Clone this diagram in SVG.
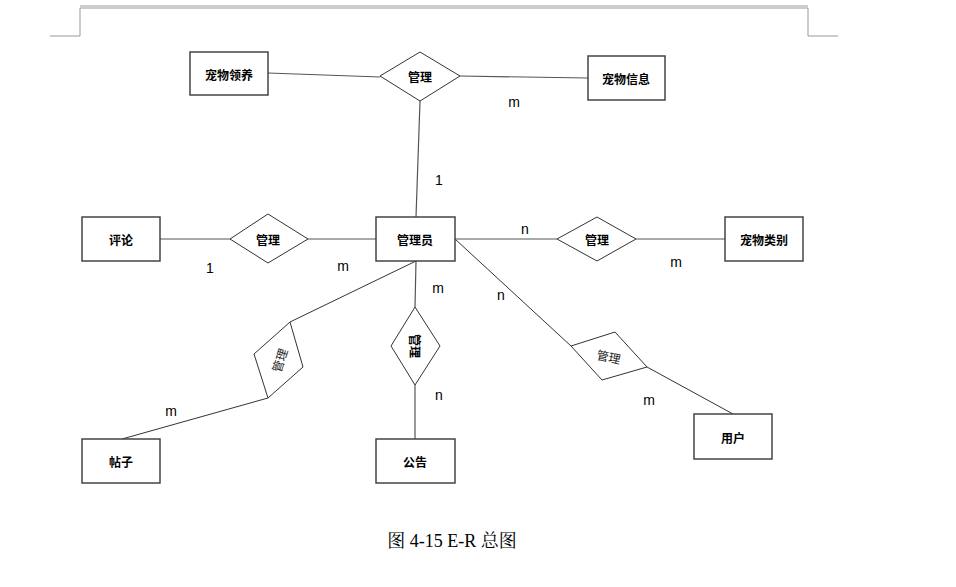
<svg xmlns="http://www.w3.org/2000/svg" width="956" height="587" viewBox="0 0 956 587">
<style>
.ent{fill:#fff;stroke:#444;stroke-width:1.5}
.rel{fill:#fff;stroke:#333;stroke-width:1}
.t{font-family:"Noto Sans CJK SC","Noto Sans",sans-serif;font-size:12px;font-weight:bold;fill:#000;text-anchor:middle;dominant-baseline:central}
.tr{font-family:"Noto Sans CJK SC","Noto Sans",sans-serif;font-size:12px;fill:#222;text-anchor:middle;dominant-baseline:central}
.c{font-family:"Liberation Sans",Arial,sans-serif;font-size:14px;fill:#000;text-anchor:middle}
.ln{stroke:#555;stroke-width:1.2;fill:none}
.ln2{stroke:#333;stroke-width:1;fill:none}
.frame{stroke:#999;stroke-width:1;fill:none}
</style>
<rect width="956" height="587" fill="#fff"/>
<g id="frame">
<line class="frame" x1="80" y1="6" x2="808" y2="6"/>
<line class="frame" x1="80" y1="8" x2="808" y2="8"/>
<line class="frame" x1="80" y1="8" x2="80" y2="36"/>
<line class="frame" x1="808" y1="8" x2="808" y2="36"/>
<line class="frame" x1="50" y1="36" x2="80" y2="36"/>
<line class="frame" x1="808" y1="36" x2="838" y2="36"/>
</g>
<g id="connectors">
<line class="ln" x1="268" y1="73" x2="380" y2="77"/>
<line class="ln" x1="460" y1="76" x2="588" y2="78"/>
<line class="ln" x1="420" y1="101" x2="416" y2="217"/>
<line class="ln" x1="160" y1="239" x2="230" y2="239"/>
<line class="ln" x1="308" y1="239" x2="376" y2="239"/>
<line class="ln" x1="455" y1="239" x2="557" y2="239"/>
<line class="ln" x1="636" y1="239" x2="725" y2="239"/>
<line class="ln2" x1="416" y1="261" x2="290" y2="322"/>
<line class="ln2" x1="268" y1="398" x2="122" y2="439"/>
<line class="ln" x1="416" y1="261" x2="415" y2="307"/>
<line class="ln" x1="415" y1="385" x2="415" y2="439"/>
<line class="ln2" x1="455" y1="239" x2="571" y2="346"/>
<line class="ln2" x1="647" y1="367" x2="733" y2="414"/>
</g>
<g id="n_chongwulingyang"><rect class="ent" x="190" y="52" width="78" height="43"/><text class="t" x="229" y="74">宠物领养</text></g>
<g id="r_top"><polygon class="rel" points="420,52 460,76 420,101 380,76"/><text class="t" x="420" y="76">管理</text></g>
<g id="n_chongwuxinxi"><rect class="ent" x="588" y="56" width="77" height="44"/><text class="t" x="626" y="78">宠物信息</text></g>
<g id="n_pinglun"><rect class="ent" x="82" y="217" width="78" height="44"/><text class="t" x="121" y="239">评论</text></g>
<g id="r_left"><polygon class="rel" points="268,214 308,239 268,263 230,239"/><text class="t" x="268" y="239">管理</text></g>
<g id="n_guanliyuan"><rect class="ent" x="376" y="217" width="79" height="44"/><text class="t" x="415" y="239">管理员</text></g>
<g id="r_right"><polygon class="rel" points="597,217 636,239 597,261 557,239"/><text class="t" x="597" y="239">管理</text></g>
<g id="n_chongwuleibie"><rect class="ent" x="725" y="217" width="78" height="44"/><text class="t" x="764" y="239">宠物类别</text></g>
<g id="r_tiezi"><polygon class="rel" points="290,322 303,367 268,398 254,354"/><text class="tr" x="279" y="360" transform="rotate(-72 279 360)">管理</text></g>
<g id="r_gonggao"><polygon class="rel" points="415,307 440,346 415,385 391,346"/><text class="t" x="415" y="346" transform="rotate(90 415 346)">管理</text></g>
<g id="r_yonghu"><polygon class="rel" points="571,346 615,332 647,367 602,380"/><text class="tr" x="609" y="356" transform="rotate(12 609 356)">管理</text></g>
<g id="n_tiezi"><rect class="ent" x="82" y="439" width="78" height="44"/><text class="t" x="121" y="461">帖子</text></g>
<g id="n_gonggao"><rect class="ent" x="376" y="439" width="79" height="44"/><text class="t" x="415" y="461">公告</text></g>
<g id="n_yonghu"><rect class="ent" x="694" y="414" width="78" height="45"/><text class="t" x="733" y="437">用户</text></g>
<g id="labels">
<text class="c" x="514" y="107">m</text>
<text class="c" x="439" y="185">1</text>
<text class="c" x="210" y="273">1</text>
<text class="c" x="343" y="271">m</text>
<text class="c" x="525" y="234">n</text>
<text class="c" x="676" y="267">m</text>
<text class="c" x="438" y="293">m</text>
<text class="c" x="501" y="300">n</text>
<text class="c" x="171" y="416">m</text>
<text class="c" x="439" y="400">n</text>
<text class="c" x="649" y="405">m</text>
</g>
<text x="452" y="547" font-family="'Liberation Serif','Noto Serif CJK SC','Noto Sans CJK SC',serif" font-size="18" text-anchor="middle" fill="#000">图 4-15 E-R 总图</text>
</svg>
